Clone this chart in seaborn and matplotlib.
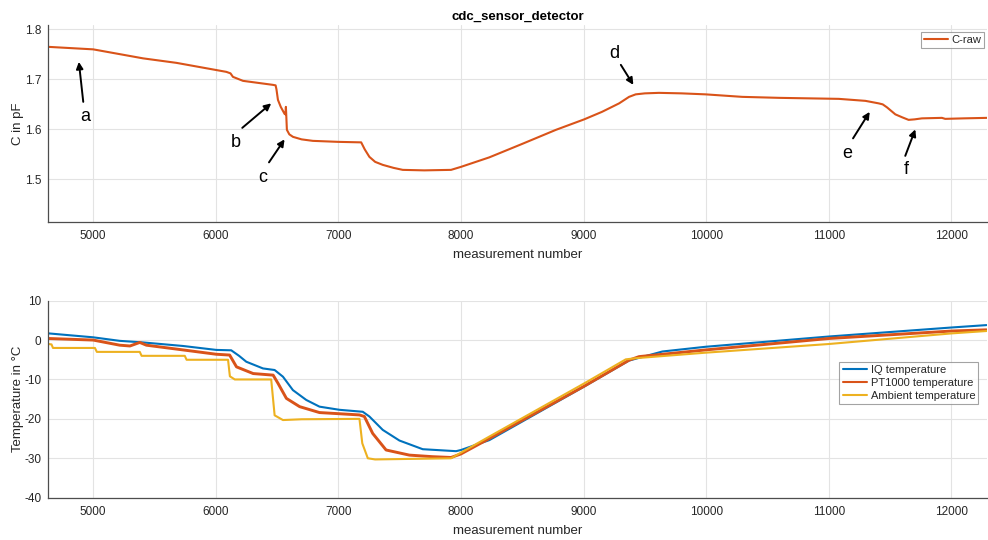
import matplotlib
matplotlib.use("Agg")
import matplotlib.pyplot as plt
import seaborn as sns
import pandas as pd

# ---------------- data ----------------
c_x = [4634, 5000, 5407, 5679, 6086, 6120, 6140, 6222, 6466, 6488, 6495, 6507, 6530,
       6561, 6568, 6572, 6580, 6600, 6630, 6700, 6792, 7000, 7186, 7215, 7253, 7300,
       7362, 7450, 7525, 7700, 7919, 8000, 8231, 8500, 8774, 9005, 9150, 9290, 9371,
       9425, 9500, 9615, 9800, 9995, 10294, 10600, 11082, 11299, 11407, 11440, 11475,
       11543, 11600, 11651, 11700, 11760, 11923, 11950, 12100, 12290]
c_raw = [1.765, 1.760, 1.742, 1.733, 1.715, 1.712, 1.705, 1.697, 1.689, 1.688, 1.680, 1.659, 1.645,
         1.631, 1.630, 1.645, 1.599, 1.590, 1.585, 1.580, 1.577, 1.575, 1.574, 1.560, 1.545, 1.535,
         1.529, 1.523, 1.519, 1.518, 1.519, 1.525, 1.544, 1.571, 1.599, 1.620, 1.635, 1.652, 1.665,
         1.670, 1.672, 1.673, 1.672, 1.670, 1.665, 1.663, 1.661, 1.657, 1.652, 1.650, 1.644,
         1.630, 1.624, 1.619, 1.620, 1.622, 1.623, 1.621, 1.622, 1.623]

iq_x = [4634, 5000, 5217, 5407, 5733, 6004, 6126, 6190, 6249, 6385, 6480, 6548, 6629, 6738,
        6846, 7009, 7199, 7253, 7362, 7498, 7688, 7960, 8000, 8231, 9005, 9371, 9643, 9996,
        11000, 12005, 12287]
iq_t = [1.7, 0.7, -0.2, -0.6, -1.5, -2.5, -2.6, -4.0, -5.5, -7.2, -7.6, -9.3, -12.7, -15.2,
        -16.9, -17.7, -18.2, -19.4, -22.8, -25.5, -27.7, -28.2, -27.9, -25.4, -11.8, -5.2, -2.9, -1.7,
        0.9, 3.2, 3.8]

pt_x = [4634, 5000, 5217, 5300, 5380, 5434, 5733, 6004, 6113, 6169, 6305, 6468, 6508, 6576,
        6684, 6846, 7172, 7212, 7280, 7389, 7579, 7769, 7919, 8000, 8231, 9005, 9371, 9453,
        9996, 11000, 12005, 12287]
pt_t = [0.4, 0.0, -1.3, -1.5, -0.6, -1.3, -2.5, -3.6, -3.8, -6.8, -8.5, -8.9, -11.0, -14.8,
        -16.9, -18.4, -19.0, -19.4, -23.7, -27.9, -29.2, -29.6, -29.8, -28.9, -25.0, -11.7, -5.1, -4.2,
        -2.5, 0.4, 2.3, 2.6]

amb_x = [4634, 4660, 4672, 5014, 5030, 5380, 5395, 5747, 5762, 6100, 6115, 6155, 6452, 6480,
         6548, 6700, 7172, 7195, 7240, 7300, 7919, 8231, 9005, 9344, 9426, 9996, 11000, 12005, 12287]
amb_t = [-1.0, -1.1, -2.0, -2.0, -3.0, -3.0, -4.0, -4.0, -5.0, -5.0, -9.2, -10.0, -10.0, -19.1,
         -20.3, -20.1, -20.0, -26.2, -30.0, -30.3, -30.0, -24.5, -11.0, -4.9, -4.6, -3.2, -1.0, 1.7, 2.3]

series_names = ["IQ temperature", "PT1000 temperature", "Ambient temperature"]

# annotations (letter, head x, head y, tail x, tail y, text x, text y)
ann_labels = ["a", "b", "c", "d", "e", "f"]
ann_head_x = [4883, 6452, 6561, 9406, 11334, 11706]
ann_head_y = [1.735, 1.652, 1.580, 1.689, 1.635, 1.600]
ann_tail_x = [4919, 6216, 6434, 9304, 11198, 11624]
ann_tail_y = [1.655, 1.603, 1.534, 1.729, 1.582, 1.547]
ann_text_x = [4932, 6167, 6387, 9249, 11150, 11632]
ann_text_y = [1.625, 1.573, 1.503, 1.752, 1.551, 1.519]

x_ticks = [5000, 6000, 7000, 8000, 9000, 10000, 11000, 12000]

# ---------------- style ----------------
sns.set_theme(style="white")
plt.rcParams['font.family'] = ['Liberation Sans', 'DejaVu Sans']
plt.rcParams['axes.unicode_minus'] = False

blue = "#0072BD"
red = "#D95319"
yellow = "#EDB120"
axcol = "#4d4d4d"
txtcol = "#262626"

fig = plt.figure(figsize=(9.88, 5.4), dpi=100)
ax1 = fig.add_axes([0.0489, 0.5894, 0.950, 0.3643])
ax2 = fig.add_axes([0.0489, 0.0784, 0.950, 0.3648])

df_c = pd.DataFrame({"x": c_x, "y": c_raw})
sns.lineplot(data=df_c, x="x", y="y", ax=ax1, color=red, lw=1.5, label="C-raw",
             estimator=None, sort=False)

df_t = pd.concat([
    pd.DataFrame({"x": iq_x, "y": iq_t, "s": series_names[0]}),
    pd.DataFrame({"x": pt_x, "y": pt_t, "s": series_names[1]}),
    pd.DataFrame({"x": amb_x, "y": amb_t, "s": series_names[2]}),
])
sns.lineplot(data=df_t, x="x", y="y", hue="s", ax=ax2,
             palette=[blue, red, yellow], lw=1.5, estimator=None, sort=False)
# PT1000 trace is noisy in the reference: render slightly thicker
ax2.get_lines()[1].set_linewidth(2.1)

for ax in (ax1, ax2):
    ax.set_xlim(4634, 12290)
    ax.set_xticks(x_ticks)
    ax.grid(True, color="#e3e3e3", lw=0.8)
    ax.set_axisbelow(True)
    for s in ("top", "right"):
        ax.spines[s].set_visible(False)
    for s in ("left", "bottom"):
        ax.spines[s].set_color(axcol)
        ax.spines[s].set_linewidth(0.9)
    ax.tick_params(direction="in", length=4, width=0.8, colors=axcol,
                   labelcolor=txtcol, labelsize=8.5, pad=5)
    ax.tick_params(axis="x", pad=6)
    ax.set_xlabel("measurement number", fontsize=9.5, color=txtcol, labelpad=5)

ax1.set_ylim(1.4153, 1.8087)
ax1.set_yticks([1.5, 1.6, 1.7, 1.8])
ax1.set_yticklabels(["1.5", "1.6", "1.7", "1.8"])
ax1.set_ylabel("C in pF", fontsize=9.5, color=txtcol)
ax1.yaxis.set_label_coords(-0.0259, 0.5)
ax1.set_title("cdc_sensor_detector", fontsize=9.5, fontweight="bold", color="black", pad=4)

ax2.set_ylim(-40, 10)
ax2.set_yticks([-40, -30, -20, -10, 0, 10])
ax2.set_ylabel("Temperature in °C", fontsize=9.5, color=txtcol)
ax2.yaxis.set_label_coords(-0.0255, 0.5)

leg1 = ax1.legend(loc="upper right", bbox_to_anchor=(0.997, 0.962), fontsize=8,
                  frameon=True, fancybox=False, handlelength=2.2, borderpad=0.25,
                  handletextpad=0.3, borderaxespad=0)
leg1.get_frame().set_edgecolor("#8c8c8c")
leg1.get_frame().set_linewidth(0.8)

leg2 = ax2.legend(loc="upper right", bbox_to_anchor=(0.991, 0.689), fontsize=8,
                  frameon=True, fancybox=False, handlelength=2.2, borderpad=0.3,
                  handletextpad=0.3, labelspacing=0.25, borderaxespad=0, title=None)
leg2.get_frame().set_edgecolor("#8c8c8c")
leg2.get_frame().set_linewidth(0.8)
for ln in leg2.get_lines():
    ln.set_linewidth(1.5)

for i, lab in enumerate(ann_labels):
    ax1.annotate("", xy=(ann_head_x[i], ann_head_y[i]), xytext=(ann_tail_x[i], ann_tail_y[i]),
                 arrowprops=dict(arrowstyle="-|>", color="black", lw=1.4,
                                 mutation_scale=10, shrinkA=0, shrinkB=0))
    ax1.text(ann_text_x[i], ann_text_y[i], lab, fontsize=13, color="black",
             ha="center", va="center")

fig.savefig("out.png", dpi=100)
